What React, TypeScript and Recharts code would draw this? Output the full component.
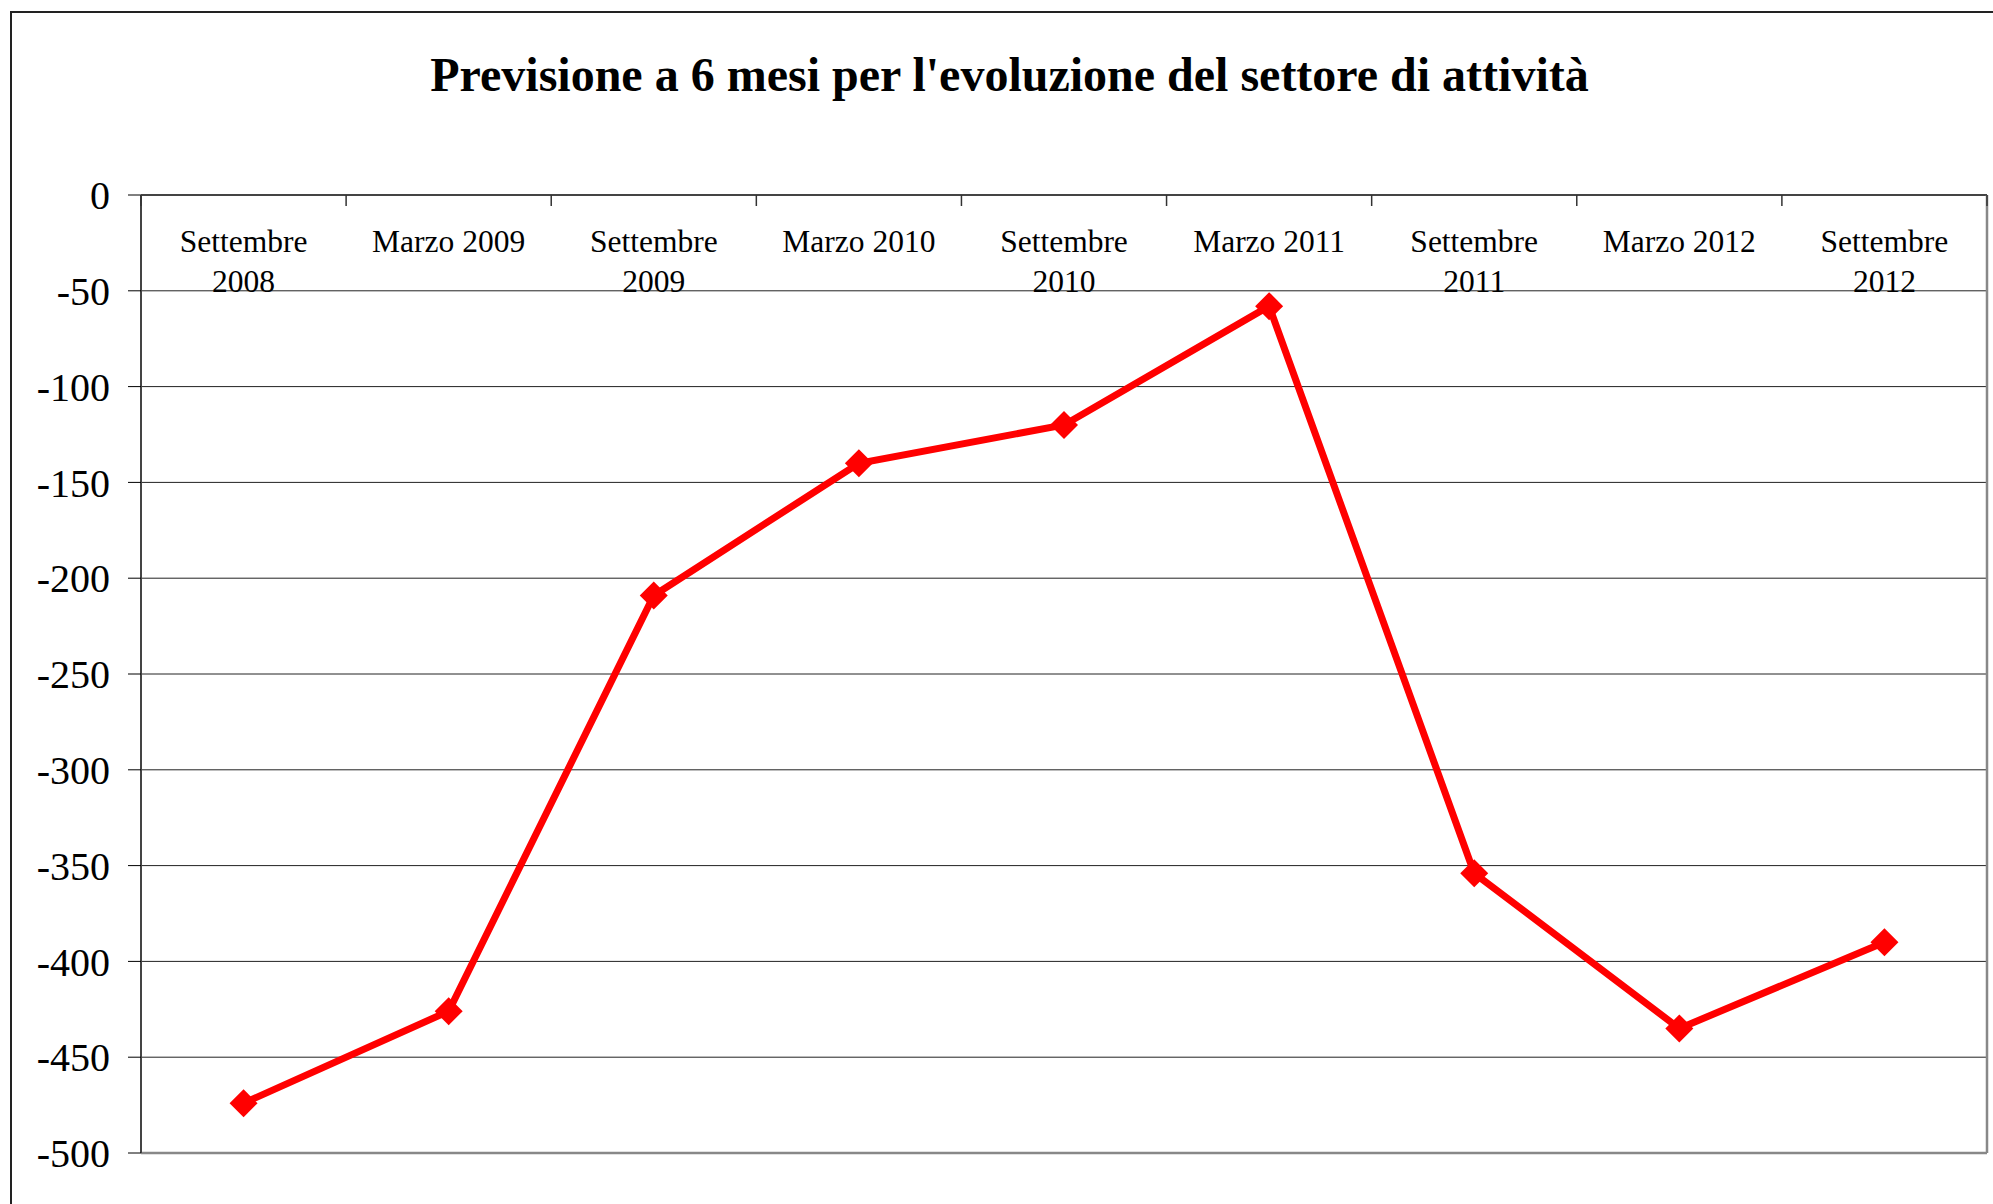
import React from 'react';
import { LineChart, Line, XAxis, YAxis, CartesianGrid } from 'recharts';

const periods = [
  'Settembre 2008',
  'Marzo 2009',
  'Settembre 2009',
  'Marzo 2010',
  'Settembre 2010',
  'Marzo 2011',
  'Settembre 2011',
  'Marzo 2012',
  'Settembre 2012',
];
const balance = [-474, -426, -209, -140, -120, -58, -354, -435, -390];
const yTicks = [0, -50, -100, -150, -200, -250, -300, -350, -400, -450, -500];

const W = 1993;
const H = 1204;
const plotLeft = 141;
const plotTop = 195;
const plotRight = 1987;
const plotBottom = 1153;
const band = (plotRight - plotLeft) / periods.length;
const serif = '"Liberation Serif", "Times New Roman", serif';

const data = periods.map((p, i) => ({ period: p, value: balance[i] }));

const CategoryTick = (props: any) => {
  const { x, payload, index } = props;
  const label: string = payload.value;
  const lines = label.startsWith('Settembre') ? label.split(' ') : [label];
  return (
    <g>
      <line x1={x - band / 2} x2={x - band / 2} y1={plotTop} y2={plotTop + 11} stroke="#333" strokeWidth={1.5} />
      {index === periods.length - 1 && (
        <line x1={x + band / 2} x2={x + band / 2} y1={plotTop} y2={plotTop + 11} stroke="#333" strokeWidth={1.5} />
      )}
      <text x={x} y={plotTop + 57} textAnchor="middle" fontFamily={serif} fontSize={31.5} fill="#000">
        {lines.map((l, i) => (
          <tspan key={i} x={x} dy={i === 0 ? 0 : 40}>
            {l}
          </tspan>
        ))}
      </text>
    </g>
  );
};

const Diamond = (props: any) => {
  const { cx, cy } = props;
  if (cx == null || cy == null) return null;
  const r = 14;
  return (
    <polygon
      points={`${cx},${cy - r} ${cx + r},${cy} ${cx},${cy + r} ${cx - r},${cy}`}
      fill="#ff0000"
    />
  );
};

export default function App() {
  return (
    <div style={{ position: 'absolute', left: 0, top: 0, width: W, height: H, background: '#fff', overflow: 'hidden' }}>
      <div
        style={{
          position: 'absolute',
          left: 10,
          top: 11,
          width: W + 20,
          height: H + 20,
          border: '2px solid #222',
          boxSizing: 'border-box',
        }}
      />
      <div
        style={{
          position: 'absolute',
          left: 0,
          top: 51,
          width: 2019,
          textAlign: 'center',
          fontFamily: serif,
          fontWeight: 'bold',
          fontSize: 48,
          lineHeight: '48px',
          color: '#000',
        }}
      >
        Previsione a 6 mesi per l'evoluzione del settore di attività
      </div>
      <div style={{ position: 'absolute', left: 0, top: 0 }}>
        <LineChart
          width={W}
          height={H}
          data={data}
          margin={{ top: plotTop - 1, right: W - plotRight - 1, bottom: H - plotBottom - 1, left: 0 }}
        >
          <CartesianGrid xAxisId="top" yAxisId="left" vertical={false} stroke="#222" strokeWidth={1} />
          <XAxis
            xAxisId="top"
            dataKey="period"
            orientation="top"
            height={1}
            interval={0}
            padding={{ left: band / 2, right: band / 2 }}
            tickLine={false}
            axisLine={{ stroke: '#444', strokeWidth: 2 }}
            tick={(p: any) => <CategoryTick {...p} />}
          />
          <XAxis
            xAxisId="bottom"
            dataKey="period"
            orientation="bottom"
            height={1}
            padding={{ left: band / 2, right: band / 2 }}
            tick={false}
            tickLine={false}
            axisLine={{ stroke: '#888', strokeWidth: 2.5 }}
          />
          <YAxis
            yAxisId="left"
            width={plotLeft}
            domain={[-500, 0]}
            ticks={yTicks}
            interval={0}
            tickSize={13}
            tickMargin={18}
            tickLine={{ stroke: '#000' }}
            axisLine={{ stroke: '#444', strokeWidth: 2 }}
            tick={{ fill: '#000', fontSize: 40, fontFamily: serif }}
          />
          <YAxis
            yAxisId="right"
            orientation="right"
            width={1}
            domain={[-500, 0]}
            tick={false}
            tickLine={false}
            axisLine={{ stroke: '#888', strokeWidth: 2.5 }}
          />
          <Line
            xAxisId="top"
            yAxisId="left"
            dataKey="value"
            stroke="#ff0000"
            strokeWidth={7}
            dot={<Diamond />}
            activeDot={false}
            isAnimationActive={false}
          />
        </LineChart>
      </div>
    </div>
  );
}
